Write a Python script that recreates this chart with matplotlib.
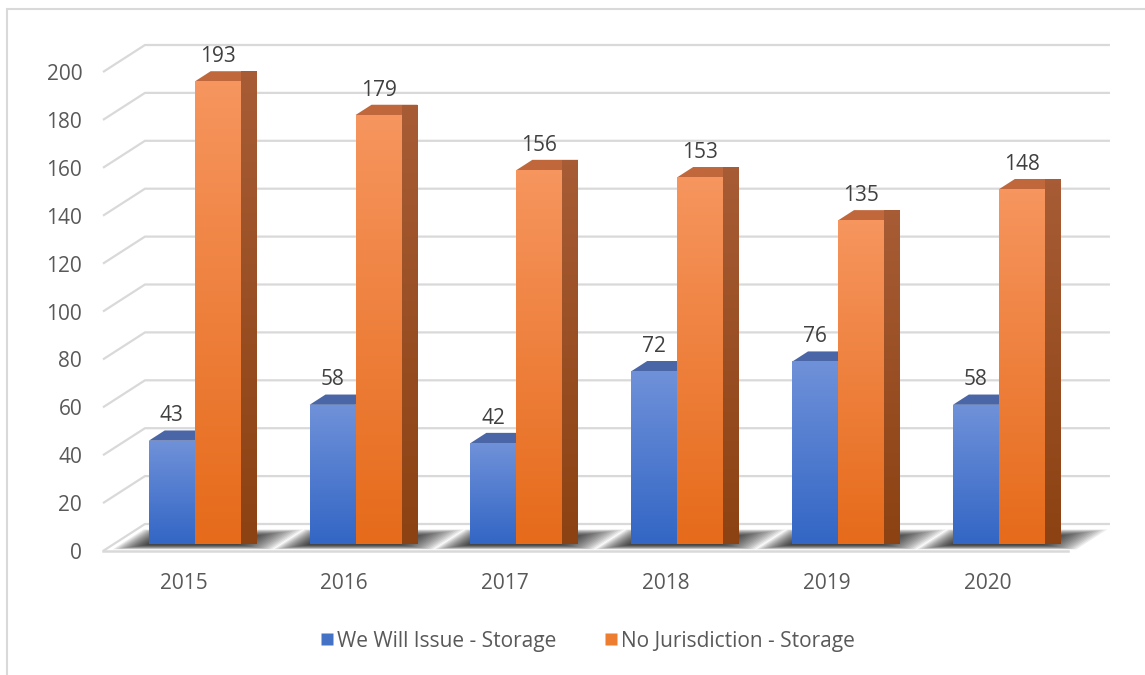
import numpy as np
import matplotlib.pyplot as plt
from matplotlib.patches import Polygon, Rectangle
from matplotlib.colors import LinearSegmentedColormap
from matplotlib.lines import Line2D

plt.rcParams['font.family'] = ['Open Sans', 'DejaVu Sans']

# --- data ---
years = ['2015', '2016', '2017', '2018', '2019', '2020']
we_will_issue = [43, 58, 42, 72, 76, 58]
no_jurisdiction = [193, 179, 156, 153, 135, 148]
series_names = ['We Will Issue - Storage', 'No Jurisdiction - Storage']

# --- 3D look (oblique projection in data units) ---
W, H = 1145, 675
DX = 42 / 161        # depth shift in category units
DY = 27 / 2.395      # depth shift in value units
F0 = 0.27            # depth position of bar front face
DD = 0.38            # bar depth (fraction of full depth)
BW = 0.286           # bar width

GRID = '#d9d9d9'
TXT = '#595959'

fig = plt.figure(figsize=(W / 100, H / 100), dpi=100)
ax = fig.add_axes([103 / W, (H - 551) / H, (1068 - 103) / W, (551 - 72) / H])
ax.set_xlim(-0.5, 5.5)
ax.set_ylim(0, 200)
for s in ax.spines.values():
    s.set_visible(False)

# chart-area border
fig.patches.append(Rectangle((7 / W, -0.05), 1.2, 1 - 9 / H + 0.05, transform=fig.transFigure,
                             fill=False, edgecolor=GRID, linewidth=1.5, zorder=0))

# back wall gridlines + left wall diagonals
yt = np.arange(0, 201, 20)
for v in yt:
    ax.plot([-0.5, -0.5 + DX, 5.5 + DX], [v, v + DY, v + DY], color=GRID, lw=1.6,
            clip_on=False, zorder=1, solid_capstyle='butt')
# floor front edge
ax.plot([-0.5, 5.5], [0, 0], color=GRID, lw=1.8, clip_on=False, zorder=1)


def grad_fill(poly_xy, c_top, c_bot, z):
    poly = Polygon(poly_xy, closed=True, facecolor='none', edgecolor='none', clip_on=False)
    ax.add_patch(poly)
    xs = [p[0] for p in poly_xy]
    ys = [p[1] for p in poly_xy]
    cmap = LinearSegmentedColormap.from_list('g', [c_bot, c_top])
    im = ax.imshow(np.linspace(0, 1, 64).reshape(-1, 1), cmap=cmap, origin='lower',
                   extent=[min(xs), max(xs), min(ys), max(ys)], aspect='auto',
                   interpolation='bilinear', zorder=z, clip_on=False)
    im.set_clip_path(poly)


def shadow(x0, x1, z):
    # soft shadow on the floor, faked with stacked translucent layers
    n = 16
    for k in range(n):
        t = k / (n - 1)
        exl = 0.17 * (1 - t)
        exr = 0.25 * (1 - t)
        d0 = 0.06 + 0.16 * t
        d1 = 0.80 - 0.25 * t
        a0, a1 = x0 - exl, x1 + exr
        pts = [(a0 + d0 * DX, d0 * DY), (a1 + d0 * DX, d0 * DY),
               (a1 + d1 * DX, d1 * DY), (a0 + d1 * DX, d1 * DY)]
        ax.add_patch(Polygon(pts, closed=True, facecolor='black', edgecolor='none',
                             alpha=0.075, zorder=z, clip_on=False))


def bar3d(x0, v, front, top, side, z):
    sx, sy = F0 * DX, F0 * DY
    bx, by = DD * DX, DD * DY
    xl, xr = x0 + sx, x0 + BW + sx
    yb, yt_ = sy, sy + v
    # top face
    ax.add_patch(Polygon([(xl, yt_), (xr, yt_), (xr + bx, yt_ + by), (xl + bx, yt_ + by)],
                         closed=True, facecolor=top, edgecolor='none', zorder=z, clip_on=False))
    # side face
    grad_fill([(xr, yb), (xr + bx, yb + by), (xr + bx, yt_ + by), (xr, yt_)],
              side[0], side[1], z)
    # front face
    grad_fill([(xl, yb), (xr, yb), (xr, yt_), (xl, yt_)], front[0], front[1], z + 0.1)
    ax.annotate(str(v), xy=((xl + xr) / 2, yt_ + by), xytext=(0, 3), textcoords='offset points',
                ha='center', va='bottom', fontsize=15, color='#404040', zorder=z + 1,
                annotation_clip=False)


blue = dict(front=('#6f91d9', '#3366c5'), top='#4a66a6', side=('#3a5a9a', '#2a4a86'))
orange = dict(front=('#f6955e', '#e66b1b'), top='#c0683c', side=('#a75c35', '#8c4212'))

x = np.arange(len(years))
for i in x:
    shadow(i - BW, i + BW, 2 + i)
for i in x:
    z = 10 + i * 2
    bar3d(i - BW, we_will_issue[i], blue['front'], blue['top'], blue['side'], z)
    bar3d(i, no_jurisdiction[i], orange['front'], orange['top'], orange['side'], z + 0.5)

ax.set_yticks(yt)
ax.set_yticklabels([str(v) for v in yt])
ax.set_xticks(x)
ax.set_xticklabels(years)
ax.tick_params(axis='y', length=0, pad=15, labelsize=15, labelcolor=TXT)
ax.tick_params(axis='x', length=0, pad=16, labelsize=15, labelcolor=TXT)

handles = [Line2D([], [], marker='s', linestyle='none', markersize=8.5,
                  markerfacecolor='#4472c4', markeredgecolor='none'),
           Line2D([], [], marker='s', linestyle='none', markersize=8.5,
                  markerfacecolor='#ed7d31', markeredgecolor='none')]
fig.legend(handles, series_names, loc='center', bbox_to_anchor=(587 / W, 1 - 641 / H),
           ncol=2, frameon=False, fontsize=15, labelcolor=TXT, handletextpad=0.1,
           columnspacing=2.2, handlelength=0.8)

fig.savefig('out.png', dpi=100, facecolor='white')
